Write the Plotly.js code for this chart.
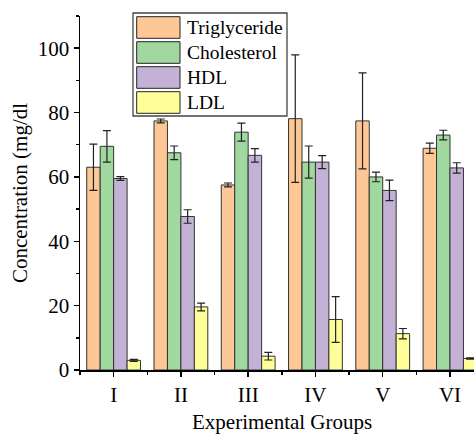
<!DOCTYPE html>
<html>
<head>
<meta charset="utf-8">
<script src="https://cdn.plot.ly/plotly-3.0.1.min.js"></script>
<style>html,body{margin:0;padding:0;background:#fff;}</style>
</head>
<body>
<div id="chart" style="width:474px;height:435px;"></div>
<script>
// ---- data ----
const groups = ["I", "II", "III", "IV", "V", "VI"];
const seriesNames = ["Triglyceride", "Cholesterol", "HDL", "LDL"];
const triglyceride = [63.0, 77.4, 57.5, 78.1, 77.4, 68.9];
const triglycerideErr = [7.2, 0.6, 0.6, 19.8, 14.9, 1.6];
const cholesterol = [69.5, 67.5, 73.9, 64.6, 60.0, 73.0];
const cholesterolErr = [4.9, 2.1, 2.8, 5.0, 1.5, 1.5];
const hdl = [59.5, 47.7, 66.7, 64.6, 55.8, 62.8];
const hdlErr = [0.6, 2.1, 2.1, 2.0, 3.2, 1.6];
const ldl = [3.0, 19.6, 4.3, 15.7, 11.3, 3.6];
const ldlErr = [0.3, 1.2, 1.2, 7.1, 1.6, 0.2];
const xTitle = "Experimental Groups";
const yTitle = "Concentration (mg/dl";

// ---- styling ----
const colors = ["#FDC896", "#A0D8A0", "#C3B2D6", "#FFFF99"];
const values = [triglyceride, cholesterol, hdl, ldl];
const errs = [triglycerideErr, cholesterolErr, hdlErr, ldlErr];
const FONT = "Times New Roman, Liberation Serif, DejaVu Serif, serif";
const xIdx = groups.map((g, i) => i);

const traces = seriesNames.map((name, k) => ({
  type: "bar",
  name: name,
  x: xIdx,
  y: values[k],
  marker: {color: colors[k], line: {color: "#333", width: 1}},
  error_y: {type: "data", array: errs[k], visible: true, color: "#222", thickness: 1.2, width: 4},
  showlegend: false
}));

// plot area geometry (pixels)
const W = 474, H = 435, ML = 80, MR = 0, MT = 16, MB = 65;
const pw = W - ML - MR, ph = H - MT - MB;
const px = v => (v - ML) / pw;
const py = v => (H - MB - v) / ph;

// custom legend (large swatches)
const shapes = [{
  type: "rect", xref: "paper", yref: "paper",
  x0: px(133), x1: px(287), y0: py(116), y1: py(13),
  fillcolor: "#fff", line: {color: "#444", width: 1.3}, layer: "above"
}];
const annotations = [];
seriesNames.forEach((name, k) => {
  const top = 16.7 + k * 25, bot = top + 21.6;
  shapes.push({
    type: "rect", xref: "paper", yref: "paper",
    x0: px(136.7), x1: px(180), y0: py(bot), y1: py(top),
    fillcolor: colors[k], line: {color: "#222", width: 1}, layer: "above"
  });
  annotations.push({
    xref: "paper", yref: "paper", x: px(185), y: py((top + bot) / 2),
    xanchor: "left", yanchor: "middle", showarrow: false,
    text: name, font: {family: FONT, size: 19.5, color: "#000"}
  });
});
// x-axis title placed as annotation
annotations.push({
  xref: "paper", yref: "paper", x: px(282), y: py(422),
  xanchor: "center", yanchor: "middle", showarrow: false,
  text: xTitle, font: {family: FONT, size: 21, color: "#000"}
});

const layout = {
  width: W, height: H,
  margin: {l: ML, r: MR, t: MT, b: MB, pad: 0},
  paper_bgcolor: "#fff", plot_bgcolor: "#fff",
  barmode: "group", bargap: 0.2, bargroupgap: 0,
  showlegend: false,
  font: {family: FONT, size: 21, color: "#000"},
  xaxis: {
    range: [-0.5, 5.357], tickmode: "array", tickvals: xIdx, ticktext: groups,
    ticks: "outside", ticklen: 5, tickwidth: 1.5, tickcolor: "#000",
    minor: {tickmode: "array", tickvals: [-0.5, 0.5, 1.5, 2.5, 3.5, 4.5], ticks: "outside", ticklen: 3, tickwidth: 1.5, tickcolor: "#000"},
    showline: true, linecolor: "#000", linewidth: 1.5,
    showgrid: false, zeroline: false, fixedrange: true,
    tickfont: {family: FONT, size: 21, color: "#000"}
  },
  yaxis: {
    range: [0, 110], tickmode: "linear", tick0: 0, dtick: 20,
    ticks: "outside", ticklen: 5, tickwidth: 1.5, tickcolor: "#000",
    minor: {tick0: 0, dtick: 10, ticks: "outside", ticklen: 3, tickwidth: 1.5, tickcolor: "#000"},
    showline: true, linecolor: "#000", linewidth: 1.5,
    showgrid: false, zeroline: false, fixedrange: true,
    tickfont: {family: FONT, size: 21, color: "#000"},
    title: {text: yTitle, font: {family: FONT, size: 21, color: "#000"}, standoff: 4}
  },
  shapes: shapes,
  annotations: annotations
};

Plotly.newPlot("chart", traces, layout, {displayModeBar: false, staticPlot: true});
</script>
</body>
</html>
